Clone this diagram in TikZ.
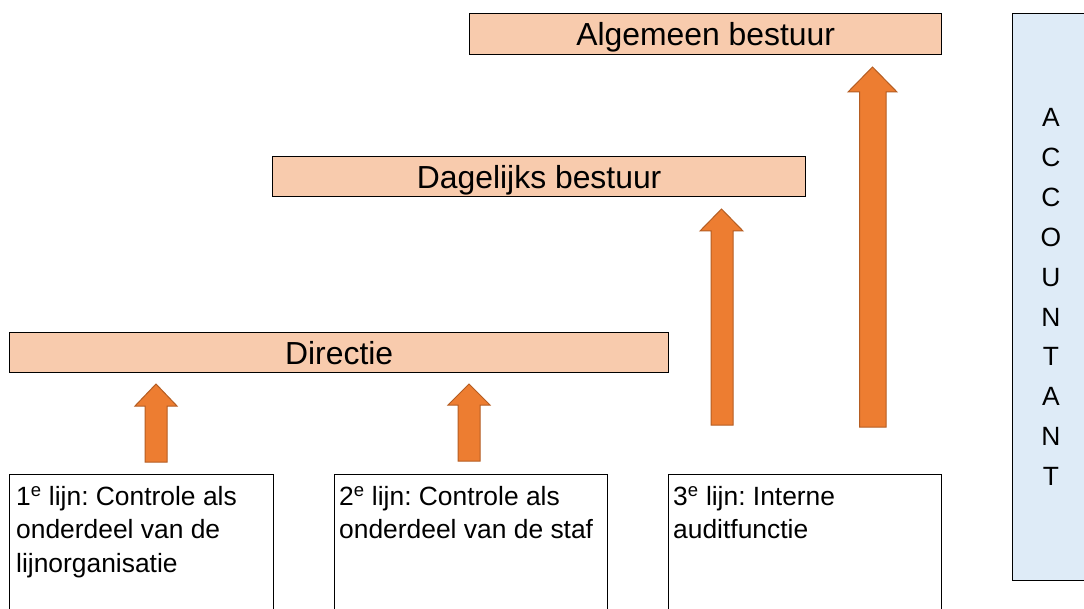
\documentclass[tikz,border=0pt]{standalone}
\usepackage{fontspec}
\setmainfont{Liberation Sans}
\frenchspacing
\definecolor{peach}{HTML}{F8CBAD}
\definecolor{paleblue}{HTML}{DEEBF7}
\definecolor{arrfill}{HTML}{ED7D31}
\definecolor{arredge}{HTML}{B55D22}
\tikzset{
  titlebox/.style={draw=black, line width=1.3bp, fill=peach, inner sep=0pt, anchor=north west, text height=23bp, text depth=0pt, font=\fontsize{32}{38}\selectfont},
  linebox/.style={draw=black, line width=1.3bp, fill=white, inner sep=0pt, anchor=north west},
  linetext/.style={inner sep=0pt, anchor=north west, align=left, font=\fontsize{26.5}{33.5}\selectfont},
  accbox/.style={draw=black, line width=1.3bp, fill=paleblue, inner sep=0pt, anchor=north west},
  blockarrow/.style={fill=arrfill, draw=arredge, line width=1bp, line join=miter}
}
\begin{document}
\begin{tikzpicture}[x=1bp,y=-1bp]
\useasboundingbox (0,0) rectangle (1084,609);
\fill[white] (0,0) rectangle (1084,609);

% top boxes
\node[titlebox, minimum width=472bp, minimum height=41bp] (ab) at (469,13) {Algemeen bestuur};
\node[titlebox, minimum width=533bp, minimum height=40bp] (db) at (272,156) {Dagelijks bestuur};
\node[titlebox, minimum width=659bp, minimum height=40bp] (dir) at (9,332) {Directie};

% accountant
\node[accbox, minimum width=100bp, minimum height=567bp] (acc) at (1012,13) {};
\node[inner sep=0pt, align=center, font=\fontsize{26.5}{40}\selectfont] (acct) at (1051,297) {A\\C\\C\\O\\U\\N\\T\\A\\N\\T};

% bottom boxes
\node[linebox, minimum width=264bp, minimum height=160bp] (l1) at (9,474) {};
\node[linebox, minimum width=273bp, minimum height=160bp] (l2) at (334,474) {};
\node[linebox, minimum width=273bp, minimum height=160bp] (l3) at (668,474) {};
\node[linetext] (l1t) at (16,486) {1\textsuperscript{e} lijn: Controle als\\onderdeel van de\\lijnorganisatie};
\node[linetext] (l2t) at (339,486) {2\textsuperscript{e} lijn: Controle als\\onderdeel van de staf};
\node[linetext] (l3t) at (673,486) {3\textsuperscript{e} lijn: Interne\\auditfunctie};

% block arrows
\filldraw[blockarrow] (145,462) -- (145,406) -- (135,406) -- (156,384) -- (177,406) -- (167,406) -- (167,462) -- cycle;
\filldraw[blockarrow] (458,461) -- (458,405) -- (448,405) -- (469,384) -- (490,405) -- (480,405) -- (480,461) -- cycle;
\filldraw[blockarrow] (711,425) -- (711,231) -- (700,231) -- (721.5,209) -- (743,231) -- (733,231) -- (733,425) -- cycle;
\filldraw[blockarrow] (859.5,427) -- (859.5,92) -- (848,92) -- (872.5,67) -- (897,92) -- (886,92) -- (886,427) -- cycle;
\end{tikzpicture}
\end{document}
